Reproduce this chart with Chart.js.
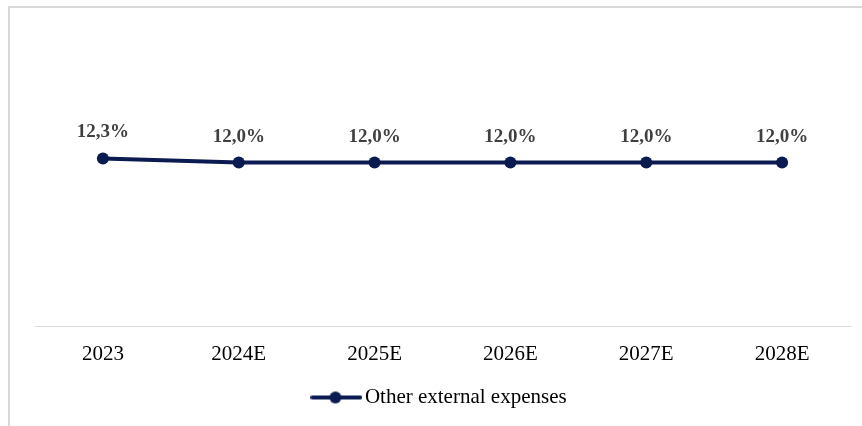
<!DOCTYPE html>
<html>
<head>
<meta charset="utf-8">
<script src="https://cdn.jsdelivr.net/npm/chart.js@4.4.1/dist/chart.umd.min.js"></script>
<style>
  html, body { margin: 0; padding: 0; background: #fff; }
  #wrap { width: 862px; height: 426px; position: relative; }
</style>
</head>
<body>
<div id="wrap"><canvas id="myChart" width="862" height="426"></canvas></div>
<script>
// data
const years = ['2023', '2024E', '2025E', '2026E', '2027E', '2028E'];
const otherExternal = [12.3, 12.0, 12.0, 12.0, 12.0, 12.0];
const seriesName = 'Other external expenses';

const navy = '#0b1a50';
const serif = "'Liberation Serif', 'Times New Roman', serif";

// legend symbol: line with a dot in the middle
const legendMark = document.createElement('canvas');
legendMark.width = 52;
legendMark.height = 14;
(function () {
    const g = legendMark.getContext('2d');
    g.strokeStyle = navy;
    g.lineWidth = 4;
    g.lineCap = 'round';
    g.beginPath();
    g.moveTo(2, 7);
    g.lineTo(50, 7);
    g.stroke();
    g.fillStyle = navy;
    g.beginPath();
    g.arc(25, 7, 6, 0, Math.PI * 2);
    g.fill();
})();

// light frame around the whole chart
const frame = {
    id: 'frame',
    beforeDraw(chart) {
        const c = chart.ctx;
        c.save();
        c.fillStyle = '#d9d9d9';
        c.fillRect(8, 6, chart.width, 2);
        c.fillRect(8, 6, 2, chart.height);
        c.restore();
    }
};

// percent labels above each point
const valueLabels = {
    id: 'valueLabels',
    afterDatasetsDraw(chart) {
        const c = chart.ctx;
        const meta = chart.getDatasetMeta(0);
        c.save();
        c.font = 'bold 19px ' + serif;
        c.fillStyle = '#404040';
        c.textAlign = 'center';
        c.textBaseline = 'alphabetic';
        meta.data.forEach((pt, i) => {
            const txt = otherExternal[i].toFixed(1).replace('.', ',') + '%';
            c.fillText(txt, pt.x, pt.y - 21);
        });
        c.restore();
    }
};

const ctx = document.getElementById('myChart').getContext('2d');

const myChart = new Chart(ctx, {
    type: 'line',
    data: {
        labels: years,
        datasets: [{
            label: seriesName,
            data: otherExternal,
            borderColor: navy,
            backgroundColor: navy,
            borderWidth: 4,
            pointRadius: 6,
            pointHoverRadius: 6,
            pointBackgroundColor: navy,
            pointBorderWidth: 0,
            tension: 0
        }]
    },
    options: {
        responsive: false,
        animation: false,
        layout: { padding: { top: 53, left: 35, right: 12, bottom: 8 } },
        plugins: {
            tooltip: { enabled: false },
            legend: {
                position: 'bottom',
                labels: {
                    usePointStyle: true,
                    pointStyle: legendMark,
                    pointStyleWidth: 36,
                    padding: 5,
                    color: '#000',
                    font: { family: serif, size: 21 }
                }
            }
        },
        scales: {
            x: {
                offset: true,
                grid: { display: false, drawTicks: false },
                border: { display: true, color: '#d9d9d9', width: 1 },
                ticks: {
                    padding: 15,
                    color: '#000',
                    font: { family: serif, size: 21 }
                }
            },
            y: {
                display: false,
                min: 0,
                max: 20
            }
        }
    },
    plugins: [frame, valueLabels]
});
</script>
</body>
</html>
